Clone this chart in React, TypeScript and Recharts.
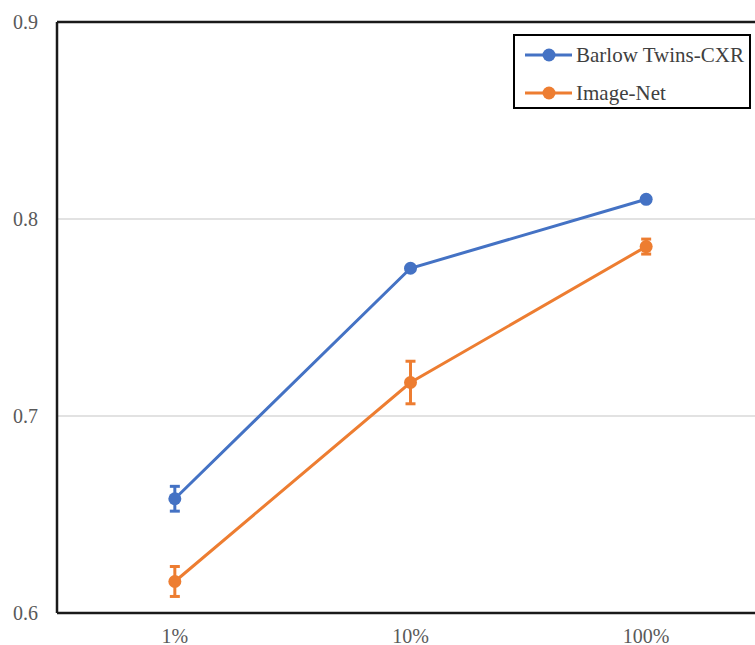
import { LineChart, Line, XAxis, YAxis, CartesianGrid, ErrorBar, ReferenceLine } from 'recharts';

const fractions = ['1%', '10%', '100%'];
const barlowTwins = [0.658, 0.775, 0.81];
const barlowTwinsErr = [0.0063, 0.001, 0.001];
const imageNet = [0.616, 0.717, 0.786];
const imageNetErr = [0.0076, 0.0108, 0.0038];
const yTicks = [0.6, 0.7, 0.8, 0.9];

const BLUE = '#4472C4';
const ORANGE = '#ED7D31';
const FONT = '"Liberation Serif", "Times New Roman", serif';

const data = fractions.map((f, i) => ({
    fraction: f,
    barlow: barlowTwins[i],
    barlowErr: barlowTwinsErr[i],
    imagenet: imageNet[i],
    imagenetErr: imageNetErr[i],
}));

const legendItems = [
    { label: 'Barlow Twins-CXR', color: BLUE },
    { label: 'Image-Net', color: ORANGE },
];

// series key drawn as a boxed overlay in the top-right of the plot
const LegendBox = () => (
    <div
        style={{
            position: 'absolute',
            left: 513,
            top: 34,
            width: 234,
            height: 71,
            border: '2px solid #000',
            background: '#fff',
            fontFamily: FONT,
            fontSize: 21,
            color: '#404040',
        }}
    >
        {legendItems.map((item, i) => (
            <div
                key={item.label}
                style={{
                    position: 'absolute',
                    left: 8,
                    top: 4 + i * 38,
                    height: 30,
                    display: 'flex',
                    alignItems: 'center',
                    whiteSpace: 'nowrap',
                }}
            >
                <svg width={50} height={16} style={{ marginRight: 3 }}>
                    <line x1={2} y1={8} x2={49} y2={8} stroke={item.color} strokeWidth={3} />
                    <circle cx={26} cy={8} r={6.5} fill={item.color} />
                </svg>
                <span>{item.label}</span>
            </div>
        ))}
    </div>
);

export default function App() {
    return (
        <div style={{ position: 'fixed', left: 0, top: 0, width: 755, height: 645, overflow: 'hidden', background: '#fff' }}>
            <LineChart width={764} height={645} data={data} margin={{ top: 22, right: 0, left: 0, bottom: 0 }}>
                <CartesianGrid vertical={false} stroke="#d9d9d9" strokeWidth={1.5} />
                <XAxis
                    dataKey="fraction"
                    scale="band"
                    height={32}
                    axisLine={{ stroke: '#1a1a1a', strokeWidth: 2.5 }}
                    tickLine={false}
                    tickSize={0}
                    tickMargin={16}
                    tick={{ fill: '#595959', fontSize: 20, fontFamily: FONT }}
                />
                <YAxis
                    type="number"
                    domain={[0.6, 0.9]}
                    ticks={yTicks}
                    width={57}
                    axisLine={{ stroke: '#1a1a1a', strokeWidth: 2.5 }}
                    tickLine={false}
                    tickSize={0}
                    tickMargin={19}
                    tickFormatter={(v: number) => v.toFixed(1)}
                    tick={{ fill: '#595959', fontSize: 20, fontFamily: FONT }}
                />
                <ReferenceLine y={0.9} stroke="#1a1a1a" strokeWidth={2.5} />
                <Line
                    type="linear"
                    dataKey="barlow"
                    stroke={BLUE}
                    strokeWidth={3}
                    dot={{ r: 6.5, fill: BLUE, stroke: BLUE, strokeWidth: 0 }}
                    activeDot={false}
                    isAnimationActive={false}
                >
                    <ErrorBar dataKey="barlowErr" width={5} stroke={BLUE} strokeWidth={3} direction="y" />
                </Line>
                <Line
                    type="linear"
                    dataKey="imagenet"
                    stroke={ORANGE}
                    strokeWidth={3}
                    dot={{ r: 6.5, fill: ORANGE, stroke: ORANGE, strokeWidth: 0 }}
                    activeDot={false}
                    isAnimationActive={false}
                >
                    <ErrorBar dataKey="imagenetErr" width={5} stroke={ORANGE} strokeWidth={3} direction="y" />
                </Line>
            </LineChart>
            <LegendBox />
        </div>
    );
}
